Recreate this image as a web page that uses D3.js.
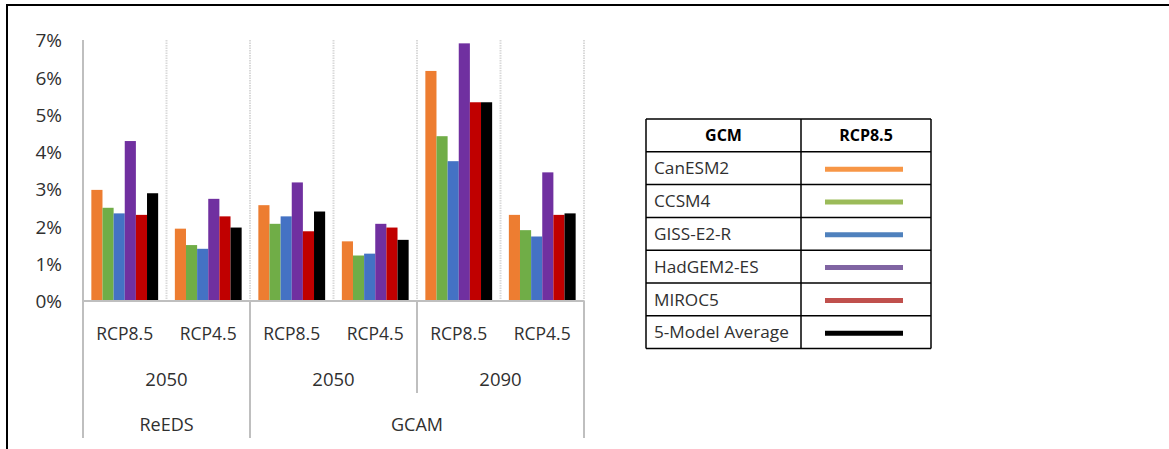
<!DOCTYPE html>
<html>
<head>
<meta charset="utf-8">
<script src="https://cdn.jsdelivr.net/npm/d3@7"></script>
<style>
  html, body { margin: 0; padding: 0; background: #fff; }
  svg { display: block; }
  text { font-family: "Open Sans", "Liberation Sans", sans-serif; }
</style>
</head>
<body>
<svg id="chart" width="1169" height="449"></svg>
<script>
// ---- data ----
const scenarios = ["RCP8.5", "RCP4.5", "RCP8.5", "RCP4.5", "RCP8.5", "RCP4.5"];
const years = [
  { label: "2050", span: [0, 2] },
  { label: "2050", span: [2, 4] },
  { label: "2090", span: [4, 6] }
];
const models = [
  { label: "ReEDS", span: [0, 2] },
  { label: "GCAM", span: [2, 6] }
];
const seriesNames = ["CanESM2", "CCSM4", "GISS-E2-R", "HadGEM2-ES", "MIROC5", "5-Model Average"];
const CanESM2   = [0.0298, 0.0194, 0.0257, 0.0160, 0.0617, 0.0231];
const CCSM4     = [0.0250, 0.0150, 0.0207, 0.0122, 0.0442, 0.0190];
const GISSE2R   = [0.0235, 0.0140, 0.0227, 0.0127, 0.0375, 0.0173];
const HadGEM2ES = [0.0429, 0.0274, 0.0318, 0.0207, 0.0691, 0.0345];
const MIROC5    = [0.0231, 0.0227, 0.0187, 0.0197, 0.0533, 0.0231];
const Average   = [0.0289, 0.0197, 0.0240, 0.0164, 0.0533, 0.0235];
const seriesValues = [CanESM2, CCSM4, GISSE2R, HadGEM2ES, MIROC5, Average];
const yTicks = [0, 0.01, 0.02, 0.03, 0.04, 0.05, 0.06, 0.07];
const legendHeader = ["GCM", "RCP8.5"];

// ---- styles ----
const barColors = ["#ED7D31", "#70AD47", "#4472C4", "#7030A0", "#C00000", "#000000"];
const legendColors = ["#F79646", "#9BBB59", "#4F81BD", "#8064A2", "#C0504D", "#000000"];
const textColor = "#303030";
const axisGray = "#bfbfbf";
const fs = 17.5;

const svg = d3.select("#chart");

// outer frame (top + left)
svg.append("line").attr("x1", 6).attr("x2", 1169).attr("y1", 5).attr("y2", 5)
  .attr("stroke", "#000").attr("stroke-width", 2);
svg.append("line").attr("x1", 7).attr("x2", 7).attr("y1", 4).attr("y2", 449)
  .attr("stroke", "#000").attr("stroke-width", 2);

// scales
const y = d3.scaleLinear().domain([0, 0.07]).range([301, 40]);
const x0 = d3.scaleBand().domain(d3.range(scenarios.length)).range([83, 584]).padding(0);
const cw = x0.bandwidth();
const x1 = d3.scaleBand().domain(d3.range(seriesNames.length))
  .range([cw * 0.1, cw * 0.9]).padding(0);

// vertical gridlines (category boundaries)
const bounds = d3.range(scenarios.length + 1).map(i => i < scenarios.length ? x0(i) : x0(i - 1) + cw);
svg.append("g").selectAll("line").data(bounds.slice(1)).join("line")
  .attr("x1", d => d).attr("x2", d => d)
  .attr("y1", y(0.07)).attr("y2", y(0))
  .attr("stroke", "#d9d9d9").attr("stroke-width", 2).attr("stroke-dasharray", "1.5,1");

// bars
const gBars = svg.append("g");
seriesValues.forEach((vals, si) => {
  gBars.append("g").selectAll("rect").data(vals).join("rect")
    .attr("x", (d, i) => x0(i) + x1(si))
    .attr("width", x1.bandwidth())
    .attr("y", d => y(d))
    .attr("height", d => y(0) - y(d))
    .attr("fill", barColors[si]);
});

// y axis labels
const yAxis = d3.axisLeft(y).tickValues(yTicks).tickFormat(d3.format(".0%")).tickSize(0).tickPadding(0);
const gy = svg.append("g").attr("transform", "translate(62,0)").call(yAxis);
gy.select(".domain").remove();
gy.selectAll("text").attr("font-size", 19).attr("fill", textColor)
  .attr("font-family", "'Open Sans', sans-serif").attr("dy", "0.36em");

// category axis line
svg.append("line").attr("x1", 83).attr("x2", 584).attr("y1", y(0)).attr("y2", y(0))
  .attr("stroke", axisGray).attr("stroke-width", 2);
// left axis line
svg.append("line").attr("x1", 83).attr("x2", 83).attr("y1", y(0.07)).attr("y2", 438)
  .attr("stroke", axisGray).attr("stroke-width", 2);

// multi-level tick lines below axis
const modelEdges = models.map(m => m.span[1]);
const yearEdges = years.map(m => m.span[1]).filter(e => !modelEdges.includes(e));
const edgeX = e => e < scenarios.length ? x0(e) : x0(e - 1) + cw;
svg.append("g").selectAll("line").data(modelEdges).join("line")
  .attr("x1", edgeX).attr("x2", edgeX).attr("y1", y(0)).attr("y2", 438)
  .attr("stroke", axisGray).attr("stroke-width", 2);
svg.append("g").selectAll("line").data(yearEdges).join("line")
  .attr("x1", edgeX).attr("x2", edgeX).attr("y1", y(0)).attr("y2", 393)
  .attr("stroke", axisGray).attr("stroke-width", 2);

// category labels
svg.append("g").selectAll("text").data(scenarios).join("text")
  .attr("x", (d, i) => x0(i) + cw / 2).attr("y", 340)
  .attr("text-anchor", "middle").attr("font-size", fs).attr("fill", textColor)
  .text(d => d);
svg.append("g").selectAll("text").data(years).join("text")
  .attr("x", d => (edgeX(d.span[0]) + edgeX(d.span[1])) / 2).attr("y", 386)
  .attr("text-anchor", "middle").attr("font-size", 18.5).attr("fill", textColor)
  .text(d => d.label);
svg.append("g").selectAll("text").data(models).join("text")
  .attr("x", d => (edgeX(d.span[0]) + edgeX(d.span[1])) / 2).attr("y", 431)
  .attr("text-anchor", "middle").attr("font-size", 18).attr("fill", textColor)
  .text(d => d.label);

// legend table
const tblX = 646, tblX2 = 931, colX = 801, tblY = 119, rowH = 32.8;
const nRows = seriesNames.length + 1;
const rowY = d3.range(nRows + 1).map(i => tblY + i * rowH);
const gl = svg.append("g");
gl.selectAll("line.h").data(rowY).join("line").attr("class", "h")
  .attr("x1", tblX).attr("x2", tblX2).attr("y1", d => d).attr("y2", d => d)
  .attr("stroke", "#000").attr("stroke-width", 1.5);
gl.selectAll("line.v").data([tblX, colX, tblX2]).join("line").attr("class", "v")
  .attr("x1", d => d).attr("x2", d => d).attr("y1", rowY[0]).attr("y2", rowY[nRows])
  .attr("stroke", "#000").attr("stroke-width", 1.5);
gl.selectAll("text.hd").data(legendHeader).join("text").attr("class", "hd")
  .attr("x", (d, i) => i === 0 ? (tblX + colX) / 2 : (colX + tblX2) / 2)
  .attr("y", rowY[0] + rowH / 2).attr("dy", "0.36em")
  .attr("text-anchor", "middle").attr("font-size", 16).attr("font-weight", "bold")
  .attr("fill", "#000").text(d => d);
gl.selectAll("text.nm").data(seriesNames).join("text").attr("class", "nm")
  .attr("x", tblX + 8).attr("y", (d, i) => rowY[i + 1] + rowH / 2).attr("dy", "0.36em")
  .attr("font-size", 17.2).attr("fill", textColor).text(d => d);
gl.selectAll("line.sw").data(seriesNames).join("line").attr("class", "sw")
  .attr("x1", 825).attr("x2", 903)
  .attr("y1", (d, i) => rowY[i + 1] + rowH / 2 + 1).attr("y2", (d, i) => rowY[i + 1] + rowH / 2 + 1)
  .attr("stroke", (d, i) => legendColors[i]).attr("stroke-width", 5);
</script>
</body>
</html>
